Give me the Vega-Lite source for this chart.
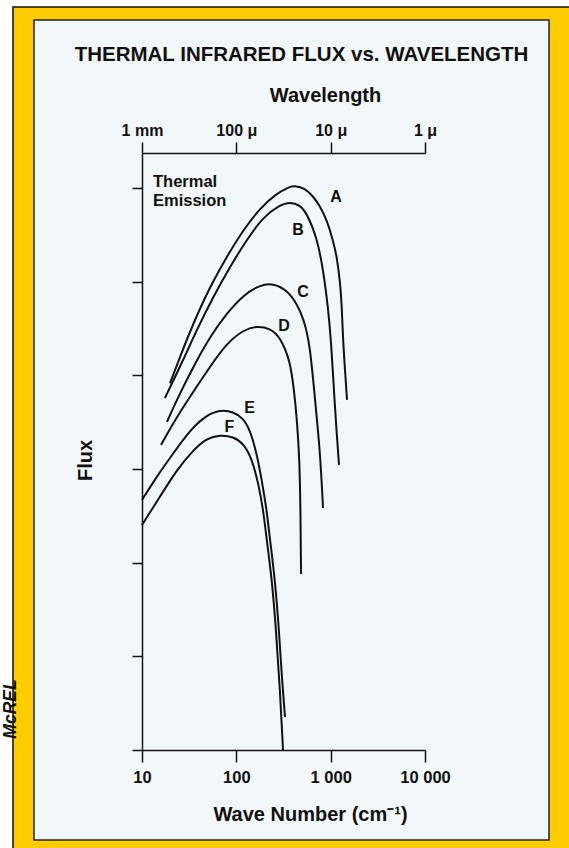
{
  "$schema": "https://vega.github.io/schema/vega-lite/v6.json",
  "width": 283,
  "height": 597,
  "autosize": {"type": "none"},
  "padding": {"left": 142, "top": 153, "right": 144, "bottom": 98},
  "background": "white",
  "config": {"view": {"stroke": null}, "font": "Liberation Sans"},
  "datasets": {
    "curves": [
      {"curve": "A", "k": 19.8, "flux": 3.915},
      {"curve": "A", "k": 25.3, "flux": 4.199},
      {"curve": "A", "k": 35.0, "flux": 4.555},
      {"curve": "A", "k": 52.6, "flux": 4.946},
      {"curve": "A", "k": 79.1, "flux": 5.266},
      {"curve": "A", "k": 118.6, "flux": 5.552},
      {"curve": "A", "k": 178.2, "flux": 5.783},
      {"curve": "A", "k": 267.9, "flux": 5.943},
      {"curve": "A", "k": 370.7, "flux": 6.014},
      {"curve": "A", "k": 408.7, "flux": 6.024},
      {"curve": "A", "k": 534.6, "flux": 6.0},
      {"curve": "A", "k": 654.6, "flux": 5.907},
      {"curve": "A", "k": 770.9, "flux": 5.808},
      {"curve": "A", "k": 907.8, "flux": 5.658},
      {"curve": "A", "k": 1058.8, "flux": 5.445},
      {"curve": "A", "k": 1170, "flux": 5.25},
      {"curve": "A", "k": 1256, "flux": 5.0},
      {"curve": "A", "k": 1309.2, "flux": 4.769},
      {"curve": "A", "k": 1351.5, "flux": 4.377},
      {"curve": "A", "k": 1419.1, "flux": 4.057},
      {"curve": "A", "k": 1490, "flux": 3.737},
      {"curve": "B", "k": 17.5, "flux": 3.758},
      {"curve": "B", "k": 27.4, "flux": 4.164},
      {"curve": "B", "k": 38.0, "flux": 4.484},
      {"curve": "B", "k": 57.0, "flux": 4.839},
      {"curve": "B", "k": 85.7, "flux": 5.16},
      {"curve": "B", "k": 128.8, "flux": 5.445},
      {"curve": "B", "k": 193.1, "flux": 5.693},
      {"curve": "B", "k": 290.4, "flux": 5.818},
      {"curve": "B", "k": 370.7, "flux": 5.85},
      {"curve": "B", "k": 473.2, "flux": 5.818},
      {"curve": "B", "k": 557.2, "flux": 5.73},
      {"curve": "B", "k": 711.2, "flux": 5.48},
      {"curve": "B", "k": 835.7, "flux": 5.124},
      {"curve": "B", "k": 943.9, "flux": 4.697},
      {"curve": "B", "k": 1008, "flux": 4.377},
      {"curve": "B", "k": 1098, "flux": 3.737},
      {"curve": "B", "k": 1153, "flux": 3.416},
      {"curve": "B", "k": 1225.6, "flux": 3.043},
      {"curve": "C", "k": 18.4, "flux": 3.502},
      {"curve": "C", "k": 23.3, "flux": 3.737},
      {"curve": "C", "k": 35.0, "flux": 4.092},
      {"curve": "C", "k": 52.6, "flux": 4.412},
      {"curve": "C", "k": 79.1, "flux": 4.662},
      {"curve": "C", "k": 118.6, "flux": 4.857},
      {"curve": "C", "k": 178.2, "flux": 4.964},
      {"curve": "C", "k": 246.5, "flux": 4.982},
      {"curve": "C", "k": 342.0, "flux": 4.911},
      {"curve": "C", "k": 436.5, "flux": 4.769},
      {"curve": "C", "k": 521.8, "flux": 4.591},
      {"curve": "C", "k": 603.9, "flux": 4.324},
      {"curve": "C", "k": 682.3, "flux": 3.737},
      {"curve": "C", "k": 770.9, "flux": 3.203},
      {"curve": "C", "k": 829.6, "flux": 2.584},
      {"curve": "D", "k": 15.9, "flux": 3.256},
      {"curve": "D", "k": 22.4, "flux": 3.523},
      {"curve": "D", "k": 32.3, "flux": 3.772},
      {"curve": "D", "k": 52.6, "flux": 4.092},
      {"curve": "D", "k": 79.1, "flux": 4.342},
      {"curve": "D", "k": 118.6, "flux": 4.484},
      {"curve": "D", "k": 164.4, "flux": 4.527},
      {"curve": "D", "k": 227.5, "flux": 4.502},
      {"curve": "D", "k": 290.4, "flux": 4.412},
      {"curve": "D", "k": 370.7, "flux": 4.164},
      {"curve": "D", "k": 408.7, "flux": 3.843},
      {"curve": "D", "k": 439.7, "flux": 3.523},
      {"curve": "D", "k": 467.5, "flux": 3.096},
      {"curve": "D", "k": 478.9, "flux": 2.562},
      {"curve": "D", "k": 484.9, "flux": 1.879},
      {"curve": "E", "k": 10, "flux": 2.669},
      {"curve": "E", "k": 14.3, "flux": 2.918},
      {"curve": "E", "k": 21.5, "flux": 3.168},
      {"curve": "E", "k": 32.3, "flux": 3.416},
      {"curve": "E", "k": 48.5, "flux": 3.576},
      {"curve": "E", "k": 67.1, "flux": 3.63},
      {"curve": "E", "k": 92.9, "flux": 3.612},
      {"curve": "E", "k": 118.6, "flux": 3.541},
      {"curve": "E", "k": 139.6, "flux": 3.416},
      {"curve": "E", "k": 164.4, "flux": 3.168},
      {"curve": "E", "k": 185.8, "flux": 2.882},
      {"curve": "E", "k": 209.9, "flux": 2.562},
      {"curve": "E", "k": 227.5, "flux": 2.242},
      {"curve": "E", "k": 257.0, "flux": 1.815},
      {"curve": "E", "k": 283.4, "flux": 1.281},
      {"curve": "E", "k": 304.9, "flux": 0.747},
      {"curve": "E", "k": 328.1, "flux": 0.352},
      {"curve": "F", "k": 10, "flux": 2.402},
      {"curve": "F", "k": 15.5, "flux": 2.704},
      {"curve": "F", "k": 23.3, "flux": 2.989},
      {"curve": "F", "k": 35.0, "flux": 3.203},
      {"curve": "F", "k": 48.5, "flux": 3.328},
      {"curve": "F", "k": 67.1, "flux": 3.363},
      {"curve": "F", "k": 92.9, "flux": 3.345},
      {"curve": "F", "k": 118.6, "flux": 3.274},
      {"curve": "F", "k": 145.6, "flux": 3.114},
      {"curve": "F", "k": 171.0, "flux": 2.847},
      {"curve": "F", "k": 193.1, "flux": 2.562},
      {"curve": "F", "k": 209.9, "flux": 2.242},
      {"curve": "F", "k": 238.8, "flux": 1.815},
      {"curve": "F", "k": 263.4, "flux": 1.281},
      {"curve": "F", "k": 290.4, "flux": 0.641},
      {"curve": "F", "k": 312.4, "flux": 0}
    ],
    "labels": [
      {"label": "A", "k": 1139.5, "flux": 5.904},
      {"label": "B", "k": 450.6, "flux": 5.548},
      {"label": "C", "k": 509.1, "flux": 4.884},
      {"label": "D", "k": 320.3, "flux": 4.521},
      {"label": "E", "k": 137.9, "flux": 3.651},
      {"label": "F", "k": 84.6, "flux": 3.443}
    ],
    "note": [
      {"t": "Thermal", "k": 13.08, "flux": 6.01},
      {"t": "Emission", "k": 13.08, "flux": 5.808}
    ]
  },
  "resolve": {"axis": {"x": "independent", "y": "independent"}},
  "layer": [
    {
      "data": {"values": [{}]},
      "mark": {"type": "rect", "fill": "#FFCC00", "stroke": "#111", "strokeWidth": 1.5},
      "encoding": {
        "x": {"datum": 0.429, "type": "quantitative", "axis": null},
        "x2": {"datum": 10000000},
        "y": {"datum": 7.932, "type": "quantitative", "axis": null},
        "y2": {"datum": -3}
      }
    },
    {
      "data": {"values": [{}]},
      "mark": {"type": "rect", "fill": "#F2F7FA", "stroke": "#222", "strokeWidth": 1.5},
      "encoding": {
        "x": {"datum": 0.716, "type": "quantitative", "axis": null},
        "x2": {"datum": 206400},
        "y": {"datum": 7.793, "type": "quantitative", "axis": null},
        "y2": {"datum": -0.961}
      }
    },
    {
      "data": {"values": [{"t": "McREL"}]},
      "mark": {"type": "text", "angle": 270, "align": "center", "baseline": "alphabetic", "fontSize": 17.5, "fontWeight": "bold", "fontStyle": "italic", "color": "#111"},
      "encoding": {
        "text": {"field": "t"},
        "x": {"datum": 0.467, "type": "quantitative", "axis": null},
        "y": {"datum": 0.4377, "type": "quantitative", "axis": null}
      }
    },
    {
      "data": {"name": "curves"},
      "mark": {"type": "line", "color": "#111", "strokeWidth": 2, "interpolate": "basis"},
      "encoding": {
        "x": {
          "field": "k", "type": "quantitative",
          "scale": {"type": "log", "domain": [10, 10000], "nice": false},
          "axis": {
            "orient": "bottom", "zindex": 1, "grid": false,
            "values": [10, 100, 1000, 10000],
            "labelExpr": "datum.value == 10 ? '10' : datum.value == 100 ? '100' : datum.value == 1000 ? '1 000' : '10 000'",
            "labelFont": "Liberation Sans", "labelFontSize": 16.5, "labelFontWeight": "bold", "labelColor": "#111",
            "labelBaseline": "alphabetic", "labelPadding": 20, "labelFlush": false, "labelOverlap": false,
            "tickSize": 12, "tickColor": "#111", "tickWidth": 1.5,
            "domainColor": "#111", "domainWidth": 1.5,
            "title": "Wave Number (cm⁻¹)", "titleFont": "Liberation Sans", "titleFontSize": 20, "titleFontWeight": "bold", "titleColor": "#111",
            "titleX": 168, "titleY": 70, "titleAlign": "center", "titleBaseline": "alphabetic", "titleAngle": 0
          }
        },
        "y": {
          "field": "flux", "type": "quantitative",
          "scale": {"domain": [0, 6.373], "nice": false, "zero": false},
          "axis": {
            "orient": "left", "zindex": 1, "grid": false,
            "values": [0, 1, 2, 3, 4, 5, 6], "labels": false,
            "tickSize": 10, "tickColor": "#111", "tickWidth": 1.5,
            "domainColor": "#111", "domainWidth": 1.5,
            "title": "Flux", "titleFont": "Liberation Sans", "titleFontSize": 20, "titleFontWeight": "bold", "titleColor": "#111",
            "titleX": -51, "titleY": 307, "titleAngle": 270, "titleAlign": "center", "titleBaseline": "alphabetic"
          }
        },
        "detail": {"field": "curve"}
      }
    },
    {
      "data": {"name": "labels"},
      "mark": {"type": "text", "fontSize": 16, "fontWeight": "bold", "color": "#111", "align": "center", "baseline": "middle"},
      "encoding": {
        "text": {"field": "label"},
        "x": {
          "field": "k", "type": "quantitative",
          "axis": {
            "orient": "top", "zindex": 1, "grid": false,
            "values": [10, 100, 1000, 10000],
            "labelExpr": "datum.value == 10 ? '1 mm' : datum.value == 100 ? '100 μ' : datum.value == 1000 ? '10 μ' : '1 μ'",
            "labelFont": "Liberation Sans", "labelFontSize": 16, "labelFontWeight": "bold", "labelColor": "#111",
            "labelBaseline": "alphabetic", "labelPadding": 7, "labelFlush": false, "labelOverlap": false,
            "tickSize": 11, "tickColor": "#111", "tickWidth": 1.5,
            "domainColor": "#111", "domainWidth": 1.5,
            "title": "Wavelength", "titleFont": "Liberation Sans", "titleFontSize": 20, "titleFontWeight": "bold", "titleColor": "#111",
            "titleX": 183, "titleY": -52, "titleAlign": "center", "titleBaseline": "alphabetic"
          }
        },
        "y": {"field": "flux", "type": "quantitative", "axis": null}
      }
    },
    {
      "data": {"name": "note"},
      "mark": {"type": "text", "fontSize": 16.5, "fontWeight": "bold", "color": "#111", "align": "left", "baseline": "alphabetic"},
      "encoding": {
        "text": {"field": "t"},
        "x": {
          "field": "k", "type": "quantitative",
          "axis": {
            "orient": "top", "zindex": 1, "grid": false,
            "domain": false, "ticks": false, "labels": false,
            "title": "THERMAL INFRARED FLUX vs. WAVELENGTH", "titleFont": "Liberation Sans", "titleFontSize": 20.5, "titleFontWeight": "bold", "titleColor": "#111",
            "titleX": 159, "titleY": -93, "titleAlign": "center", "titleBaseline": "alphabetic"
          }
        },
        "y": {"field": "flux", "type": "quantitative", "axis": null}
      }
    }
  ]
}
